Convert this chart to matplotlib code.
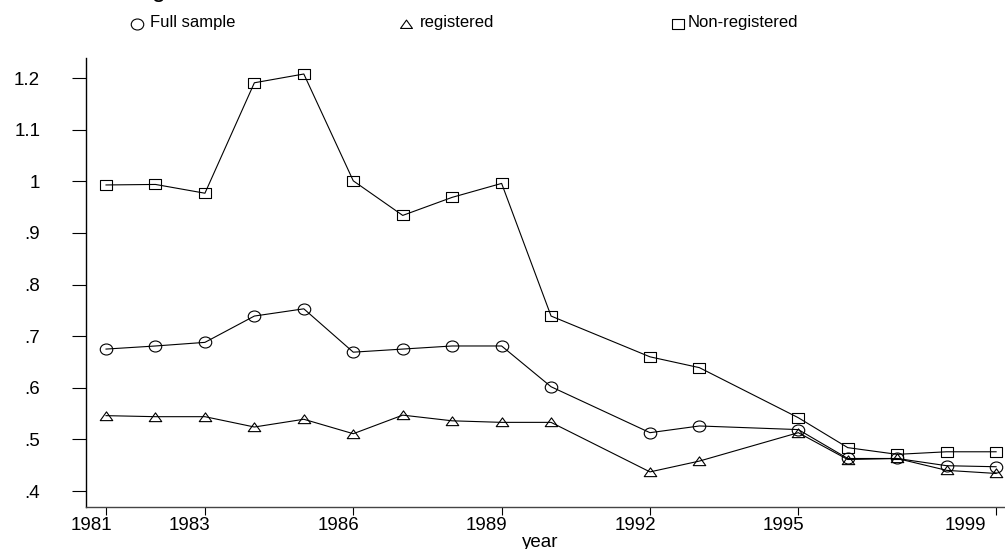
import matplotlib
matplotlib.use("Agg")
import matplotlib.pyplot as plt
from matplotlib.path import Path
from matplotlib.lines import Line2D
from matplotlib.transforms import ScaledTranslation, Affine2D

plt.rcParams["font.family"] = ["Liberation Sans", "DejaVu Sans"]

# Survey years (1991 and 1994 missing)
years = [1981, 1982, 1983, 1984, 1985, 1986, 1987, 1988, 1989, 1990,
         1992, 1993, 1995, 1996, 1997, 1998, 1999]

full_sample = [0.675, 0.681, 0.688, 0.739, 0.753, 0.669, 0.675, 0.681, 0.681,
               0.602, 0.513, 0.526, 0.519, 0.463, 0.463, 0.449, 0.447]
registered = [0.546, 0.544, 0.544, 0.524, 0.539, 0.511, 0.547, 0.536, 0.533,
              0.533, 0.437, 0.458, 0.513, 0.461, 0.463, 0.440, 0.434]
non_registered = [0.993, 0.994, 0.977, 1.191, 1.208, 1.001, 0.934, 0.969, 0.996,
                  0.739, 0.660, 0.639, 0.542, 0.484, 0.471, 0.476, 0.476]

series_names = ["Full sample", "registered", "Non-registered"]
x_ticks = [1981, 1983, 1986, 1989, 1992, 1995, 1999]
x_tick_labels = ["1981", "1983", "1986", "1989", "1992", "1995", "1999"]
y_ticks = [0.4, 0.5, 0.6, 0.7, 0.8, 0.9, 1.0, 1.1, 1.2]
y_tick_labels = [".4", ".5", ".6", ".7", ".8", ".9", "1", "1.1", "1.2"]

# Hollow marker shapes, slightly wider than tall
ellipse = Path.unit_circle().transformed(Affine2D().scale(1.0, 0.88))
flat_triangle = Path([(-1, -0.66), (1, -0.66), (0, 0.74), (-1, -0.66)],
                     [Path.MOVETO, Path.LINETO, Path.LINETO, Path.CLOSEPOLY])
flat_square = Path([(-1, -0.78), (1, -0.78), (1, 0.78), (-1, 0.78), (-1, -0.78)],
                   [Path.MOVETO, Path.LINETO, Path.LINETO, Path.LINETO, Path.CLOSEPOLY])
markers = [ellipse, flat_triangle, flat_square]
marker_sizes = [9.0, 9.0, 8.6]

W, H = 1005, 549
fig = plt.figure(figsize=(W / 100, H / 100), dpi=100)
ax = fig.add_axes([86 / W, 1 - 507 / H, 1 - 86 / W, (507 - 58) / H])

for values, mk, ms in zip([full_sample, registered, non_registered], markers, marker_sizes):
    ax.plot(years, values, color="black", lw=0.8, marker=mk, ms=ms,
            mfc="none", mec="black", mew=0.8, clip_on=False)

ax.set_xlim(1980.595, 1999.18)
ax.set_ylim(0.369, 1.239)

for side in ("top", "right"):
    ax.spines[side].set_visible(False)
ax.spines["left"].set_linewidth(1.0)
ax.spines["bottom"].set_linewidth(1.0)
ax.spines["bottom"].set_color("#444444")

ax.set_yticks(y_ticks)
ax.set_yticklabels(y_tick_labels)
ax.tick_params(axis="y", direction="out", length=10, width=0.8, pad=23,
               labelsize=13.5, colors="black")

ax.set_xticks(x_ticks)
ax.set_xticklabels(x_tick_labels)
ax.tick_params(axis="x", direction="out", length=5.8, width=0.8, pad=1.5,
               labelsize=13.5, colors="black")

# Year labels sit a little to the left of their ticks
for tick, lab in zip(ax.xaxis.get_major_ticks(), x_tick_labels):
    dx = -0.31 if lab == "1999" else -0.15
    tick.label1.set_transform(tick.label1.get_transform() +
                              ScaledTranslation(dx, 0, fig.dpi_scale_trans))

fig.text(540 / W, 1 - 547 / H, "year", ha="center", va="baseline", fontsize=13.5)

# Title, mostly above the top edge of the canvas
fig.text(152 / W, 1 + 2.5 / H, "g", ha="left", va="baseline", fontsize=18)

# Legend row across the top
legend_marker_x = [137, 406, 678]
legend_text_x = [150, 420, 688]
legend_marker_sizes = [9.0, 8.6, 8.4]
for name, mk, ms, mx, tx in zip(series_names, markers, legend_marker_sizes,
                                legend_marker_x, legend_text_x):
    fig.add_artist(Line2D([mx / W], [1 - 23.5 / H], transform=fig.transFigure,
                          marker=mk, ms=ms, mfc="none", mec="black", mew=0.8,
                          linestyle="none"))
    fig.text(tx / W, 1 - 26.5 / H, name, ha="left", va="baseline", fontsize=12)

fig.savefig("out.png", dpi=100, facecolor="white")
